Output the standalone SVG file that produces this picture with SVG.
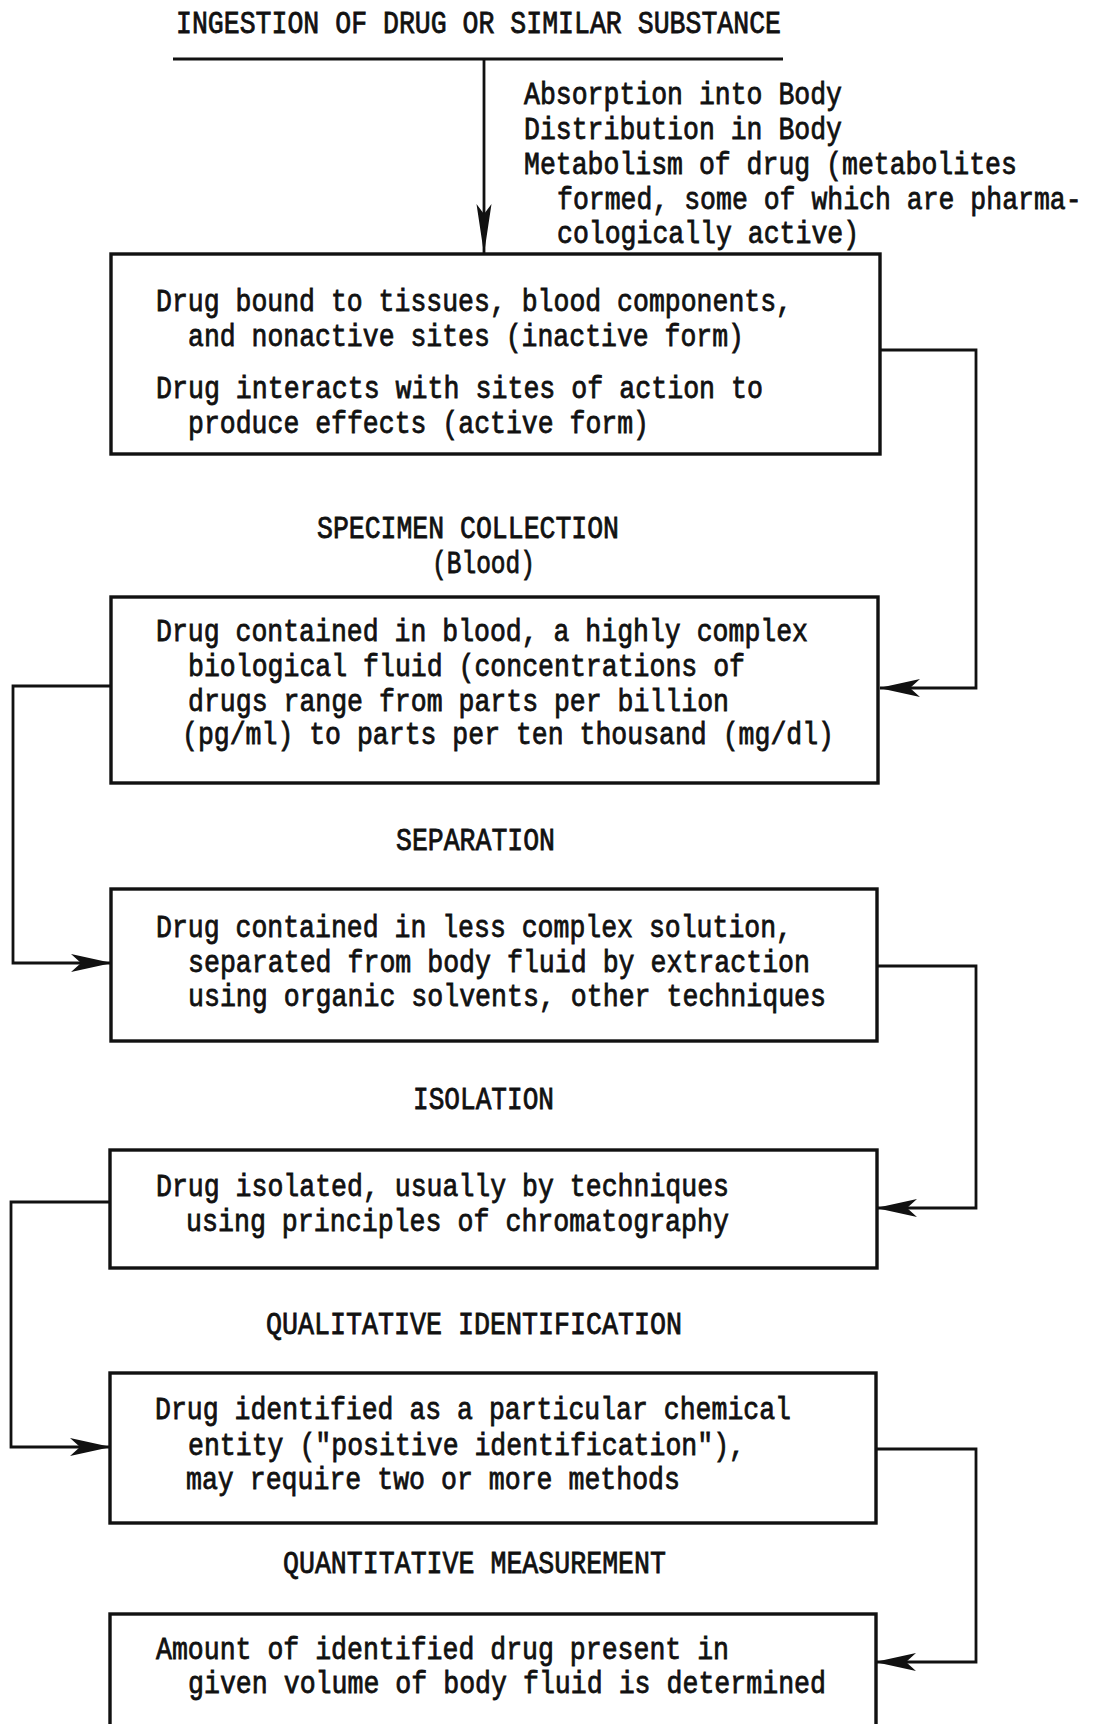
<svg xmlns="http://www.w3.org/2000/svg" width="1095" height="1724" viewBox="0 0 1095 1724">
<style>
text{font-family:"Liberation Mono","DejaVu Sans Mono",monospace;font-size:31px;fill:#111;stroke:#111;stroke-width:0.8px;}
.box{fill:#fff;stroke:#111;stroke-width:3.4;}
.conn{fill:none;stroke:#111;stroke-width:2.8;}
</style>
<defs>
<marker id="ah" viewBox="-42 -11 44 22" refX="0" refY="0" markerWidth="44" markerHeight="22" markerUnits="userSpaceOnUse" orient="auto">
<path d="M1,0 L-40,-9 L-30,0 L-40,9 Z" fill="#111"/>
</marker>
<marker id="ahThin" viewBox="-52 -9 54 18" refX="0" refY="0" markerWidth="54" markerHeight="18" markerUnits="userSpaceOnUse" orient="auto">
<path d="M1,0 L-49,-7.5 L-39,0 L-49,7.5 Z" fill="#111"/>
</marker>
</defs>
<rect width="1095" height="1724" fill="#fff"/>

<g id="start">
<text x="176" y="33" textLength="605" lengthAdjust="spacingAndGlyphs">INGESTION OF DRUG OR SIMILAR SUBSTANCE</text>
<line x1="173" y1="59" x2="783" y2="59" stroke="#111" stroke-width="2.8"/>
</g>

<g id="process-notes">
<text transform="translate(524,104) scale(0.855 1)" x="0" y="0">Absorption into Body</text>
<text transform="translate(524,139) scale(0.855 1)" x="0" y="0">Distribution in Body</text>
<text transform="translate(524,174) scale(0.855 1)" x="0" y="0">Metabolism of drug (metabolites</text>
<text transform="translate(557,209) scale(0.855 1)" x="0" y="0">formed, some of which are pharma-</text>
<text transform="translate(557,243) scale(0.855 1)" x="0" y="0">cologically active)</text>
</g>

<g id="connectors">
<path class="conn" d="M484,59 V253" marker-end="url(#ahThin)"/>
<path class="conn" d="M880,350 H976 V688 H880" marker-end="url(#ah)"/>
<path class="conn" d="M111,686 H13 V963 H111" marker-end="url(#ah)"/>
<path class="conn" d="M877,966 H976 V1208 H877" marker-end="url(#ah)"/>
<path class="conn" d="M110,1202 H11 V1447 H110" marker-end="url(#ah)"/>
<path class="conn" d="M876,1449 H976 V1662 H876" marker-end="url(#ah)"/>
</g>

<g id="box1">
<rect class="box" x="111" y="254" width="769" height="200"/>
<text x="156" y="311" textLength="636" lengthAdjust="spacingAndGlyphs">Drug bound to tissues, blood components,</text>
<text x="188" y="346" textLength="556" lengthAdjust="spacingAndGlyphs">and nonactive sites (inactive form)</text>
<text x="156" y="398" textLength="607" lengthAdjust="spacingAndGlyphs">Drug interacts with sites of action to</text>
<text x="188" y="433" textLength="461" lengthAdjust="spacingAndGlyphs">produce effects (active form)</text>
</g>

<g id="label-specimen">
<text x="317" y="538" textLength="302" lengthAdjust="spacingAndGlyphs">SPECIMEN COLLECTION</text>
<text x="432" y="573" textLength="103" lengthAdjust="spacingAndGlyphs">(Blood)</text>
</g>

<g id="box2">
<rect class="box" x="111" y="597" width="767" height="186"/>
<text x="156" y="641" textLength="652" lengthAdjust="spacingAndGlyphs">Drug contained in blood, a highly complex</text>
<text x="188" y="676" textLength="557" lengthAdjust="spacingAndGlyphs">biological fluid (concentrations of</text>
<text x="188" y="711" textLength="541" lengthAdjust="spacingAndGlyphs">drugs range from parts per billion</text>
<text x="182" y="744" textLength="652" lengthAdjust="spacingAndGlyphs">(pg/ml) to parts per ten thousand (mg/dl)</text>
</g>

<g id="label-separation">
<text x="396" y="850" textLength="159" lengthAdjust="spacingAndGlyphs">SEPARATION</text>
</g>

<g id="box3">
<rect class="box" x="111" y="889" width="766" height="152"/>
<text x="156" y="937" textLength="636" lengthAdjust="spacingAndGlyphs">Drug contained in less complex solution,</text>
<text x="188" y="972" textLength="622" lengthAdjust="spacingAndGlyphs">separated from body fluid by extraction</text>
<text x="188" y="1006" textLength="638" lengthAdjust="spacingAndGlyphs">using organic solvents, other techniques</text>
</g>

<g id="label-isolation">
<text x="413" y="1109" textLength="141" lengthAdjust="spacingAndGlyphs">ISOLATION</text>
</g>

<g id="box4">
<rect class="box" x="110" y="1150" width="767" height="118"/>
<text x="156" y="1196" textLength="573" lengthAdjust="spacingAndGlyphs">Drug isolated, usually by techniques</text>
<text x="186" y="1231" textLength="543" lengthAdjust="spacingAndGlyphs">using principles of chromatography</text>
</g>

<g id="label-qualitative">
<text x="266" y="1334" textLength="416" lengthAdjust="spacingAndGlyphs">QUALITATIVE IDENTIFICATION</text>
</g>

<g id="box5">
<rect class="box" x="110" y="1373" width="766" height="150"/>
<text x="155" y="1419" textLength="636" lengthAdjust="spacingAndGlyphs">Drug identified as a particular chemical</text>
<text x="188" y="1455" textLength="557" lengthAdjust="spacingAndGlyphs">entity ("positive identification"),</text>
<text x="186" y="1489" textLength="494" lengthAdjust="spacingAndGlyphs">may require two or more methods</text>
</g>

<g id="label-quantitative">
<text x="283" y="1573" textLength="383" lengthAdjust="spacingAndGlyphs">QUANTITATIVE MEASUREMENT</text>
</g>

<g id="box6">
<rect class="box" x="110" y="1614" width="766" height="130"/>
<text x="156" y="1659" textLength="573" lengthAdjust="spacingAndGlyphs">Amount of identified drug present in</text>
<text x="188" y="1693" textLength="638" lengthAdjust="spacingAndGlyphs">given volume of body fluid is determined</text>
</g>
</svg>
